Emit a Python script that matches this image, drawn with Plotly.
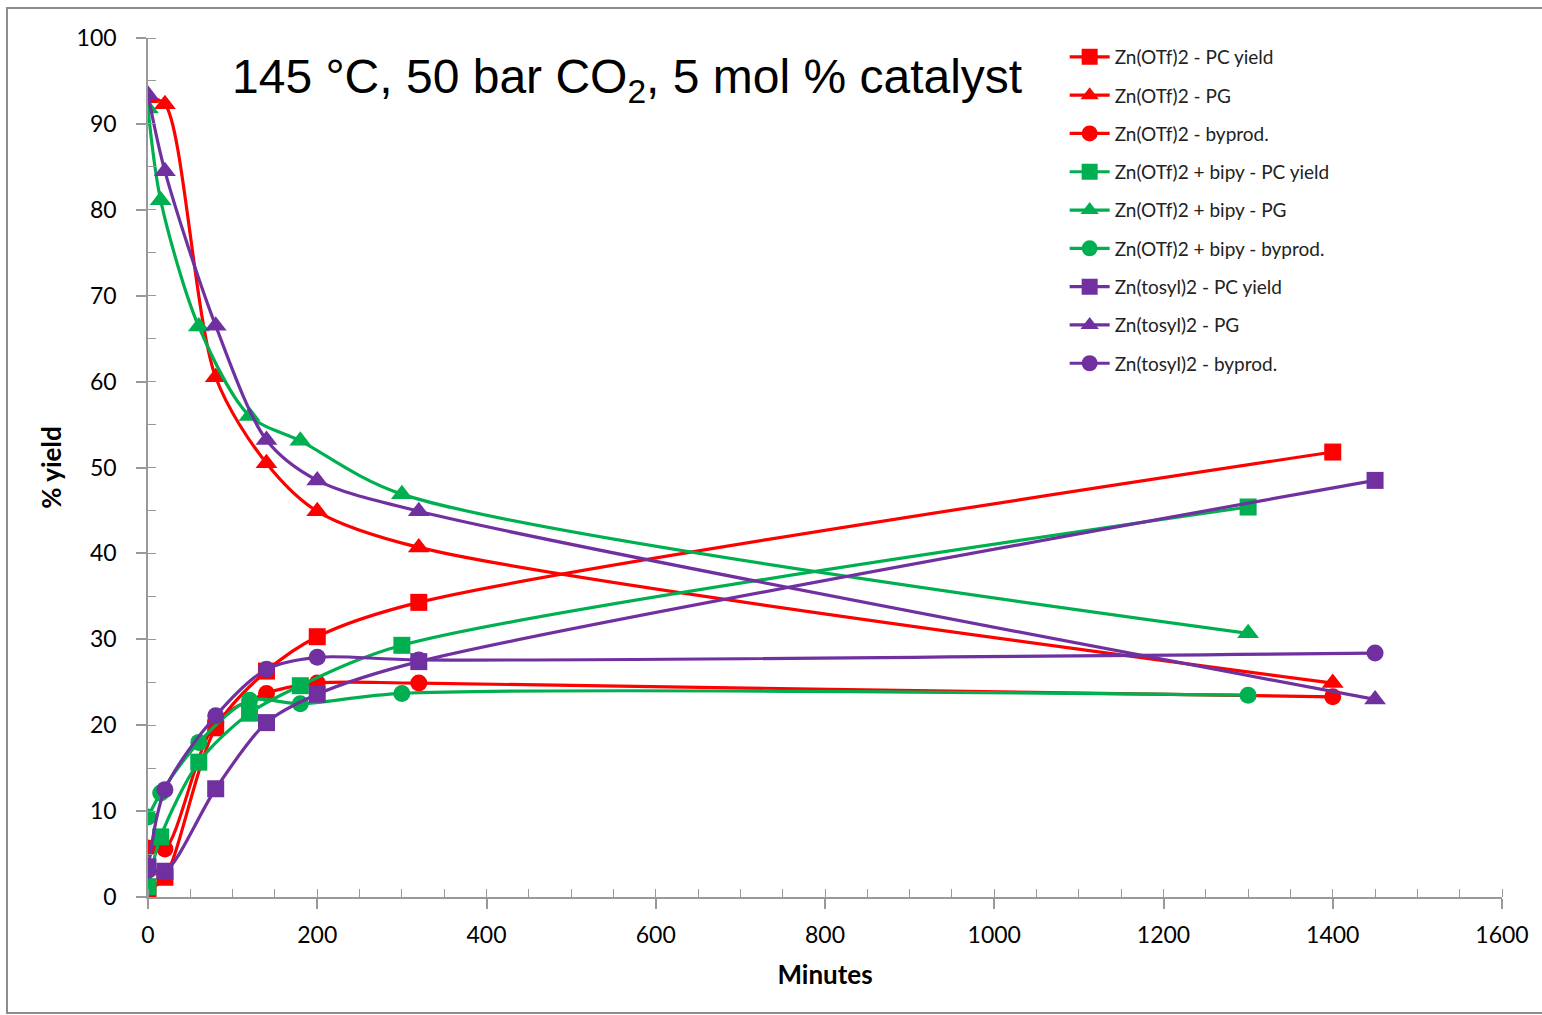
import plotly.graph_objects as go

RED = "#FF0000"
GREEN = "#00B050"
PURPLE = "#7030A0"

# Zn(OTf)2
otf_t = [0, 20, 80, 140, 200, 320, 1400]
otf_pc = [0.8, 2.3, 19.7, 26.3, 30.3, 34.3, 51.8]
otf_pg = [93.0, 92.3, 60.5, 50.5, 44.9, 40.7, 24.9]
otf_by = [5.7, 5.6, 20.3, 23.7, 24.9, 24.9, 23.3]

# Zn(OTf)2 + bipy
bipy_t = [0, 15, 60, 120, 180, 300, 1300]
bipy_pc = [1.2, 7.0, 15.7, 21.4, 24.6, 29.3, 45.4]
bipy_pg = [91.8, 81.1, 66.4, 56.0, 53.1, 46.9, 30.7]
bipy_by = [9.3, 12.1, 18.0, 22.9, 22.5, 23.7, 23.5]

# Zn(tosyl)2
tos_t = [0, 20, 80, 140, 200, 320, 1450]
tos_pc = [3.5, 3.0, 12.6, 20.3, 23.6, 27.4, 48.5]
tos_pg = [93.4, 84.5, 66.5, 53.2, 48.5, 44.9, 23.0]
tos_by = [3.1, 12.5, 21.1, 26.5, 27.9, 27.6, 28.4]

x_ticks = [0, 200, 400, 600, 800, 1000, 1200, 1400, 1600]
y_ticks = [0, 10, 20, 30, 40, 50, 60, 70, 80, 90, 100]

series = [
    ("Zn(OTf)2 - PC yield", otf_t, otf_pc, RED, "square"),
    ("Zn(OTf)2 - PG", otf_t, otf_pg, RED, "triangle-up"),
    ("Zn(OTf)2 - byprod.", otf_t, otf_by, RED, "circle"),
    ("Zn(OTf)2 + bipy - PC yield", bipy_t, bipy_pc, GREEN, "square"),
    ("Zn(OTf)2 + bipy - PG", bipy_t, bipy_pg, GREEN, "triangle-up"),
    ("Zn(OTf)2 + bipy - byprod.", bipy_t, bipy_by, GREEN, "circle"),
    ("Zn(tosyl)2 - PC yield", tos_t, tos_pc, PURPLE, "square"),
    ("Zn(tosyl)2 - PG", tos_t, tos_pg, PURPLE, "triangle-up"),
    ("Zn(tosyl)2 - byprod.", tos_t, tos_by, PURPLE, "circle"),
]

fig = go.Figure()
for name, xs, ys, col, sym in series:
    size = {"square": 17, "triangle-up": 19, "circle": 17}[sym]
    fig.add_trace(go.Scatter(
        x=xs, y=ys, name=name, mode="lines+markers",
        legendgroup=name,
        line=dict(color=col, width=3.2, shape="spline", smoothing=0.85),
        marker=dict(color=col, symbol=sym, size=size, line=dict(width=0)),
    ))

FONT = "Lato, Open Sans, sans-serif"
axis_font = dict(family=FONT, size=23, color="#000")
title_font = dict(family=FONT, size=26, color="#000")

fig.update_layout(
    width=1542, height=1015,
    margin=dict(l=148, r=40, t=38, b=118),
    paper_bgcolor="white", plot_bgcolor="white",
    showlegend=True,
    legend=dict(
        x=0.677, y=1.0, xanchor="left", yanchor="top",
        font=dict(family=FONT, size=19, color="#222"),
        tracegroupgap=10.6, bgcolor="rgba(0,0,0,0)",
        itemwidth=40,
    ),
    xaxis=dict(
        range=[0, 1600], tickvals=x_ticks, ticktext=[str(v) for v in x_ticks],
        showgrid=False, zeroline=False, showline=True, linecolor="#999", linewidth=1.5,
        ticks="outside", ticklen=10, tickcolor="#999", tickwidth=1.5,
        minor=dict(dtick=50, ticks="inside", ticklen=8, tickcolor="#999", tickwidth=1.2),
        tickfont=axis_font, ticklabelstandoff=7,
        title=dict(text="<b>Minutes</b>", font=title_font, standoff=18),
    ),
    yaxis=dict(
        range=[0, 100], tickvals=y_ticks, ticktext=[str(v) for v in y_ticks],
        showgrid=False, zeroline=False, showline=True, linecolor="#999", linewidth=1.5,
        ticks="outside", ticklen=10, tickcolor="#999", tickwidth=1.5,
        minor=dict(dtick=5, ticks="inside", ticklen=8, tickcolor="#999", tickwidth=1.2),
        tickfont=axis_font, ticklabelstandoff=15,
        title=dict(text="<b>% yield</b>", font=title_font, standoff=8),
    ),
    annotations=[dict(
        text="145 °C, 50 bar CO<sub>2</sub>, 5 mol % catalyst",
        xref="paper", yref="paper", x=(230 - 148) / 1354, y=(897 - 80) / 859,
        xanchor="left", yanchor="middle", showarrow=False,
        font=dict(family="Liberation Sans, Arial, sans-serif", size=48, color="#000"),
    )],
    shapes=[dict(
        type="rect", xref="paper", yref="paper",
        x0=(7 - 148) / 1354, x1=(1548 - 148) / 1354,
        y0=(897 - 1013) / 859, y1=(897 - 8) / 859,
        line=dict(color="#8c8c8c", width=2), fillcolor="rgba(0,0,0,0)", layer="below",
    )],
)

fig.write_html("out.html")
